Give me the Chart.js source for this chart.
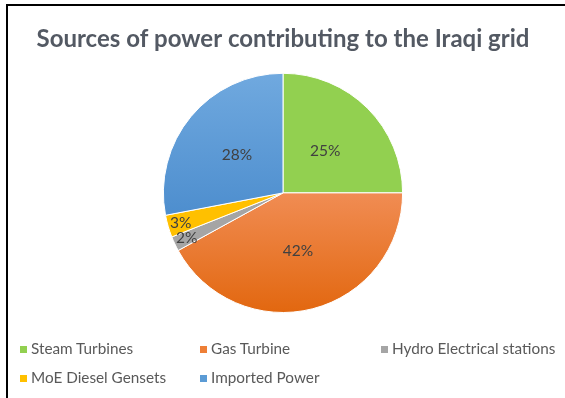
<!DOCTYPE html>
<html>
<head>
<meta charset="utf-8">
<script src="https://cdn.jsdelivr.net/npm/chart.js@4"></script>
<style>
  body { margin: 0; background: #fff; font-family: Lato, sans-serif; }
  #wrap { position: relative; width: 565px; height: 398px; overflow: hidden; }
  #frame { position: absolute; left: 6px; top: 4px; right: -10px; bottom: -10px;
           border-top: 2px solid #000; border-left: 2px solid #000; pointer-events: none; }
  #legend { position: absolute; left: 0; top: 0; width: 565px; height: 398px; pointer-events: none; }
  .item { position: absolute; font-size: 15.3px; color: #595959; white-space: nowrap; line-height: 16px; }
  .box { display: inline-block; width: 7px; height: 7px; margin-right: 4px; vertical-align: 1px; }
</style>
</head>
<body>
<div id="wrap">
  <canvas id="chart" width="565" height="398"></canvas>
  <div id="legend"></div>
  <div id="frame"></div>
</div>
<script>
// données du graphique
const titleText = 'Sources of power contributing to the Iraqi grid';
const labels = ['Steam Turbines', 'Gas Turbine', 'Hydro Electrical stations', 'MoE Diesel Gensets', 'Imported Power'];
const shares = [25, 42, 2, 3, 28];
const colors = ['#92D050', '#EE7F36', '#A5A5A5', '#FFC000', '#5B9BD5'];

// dégradés verticaux façon Excel pour le bleu et l'orange
function sliceColor(ctx) {
  const i = ctx.dataIndex;
  const chart = ctx.chart;
  const area = chart.chartArea;
  if (!area) return colors[i];
  const g = chart.ctx.createLinearGradient(0, area.top, 0, area.bottom);
  if (i === 1) {
    g.addColorStop(0.45, '#F2905A');
    g.addColorStop(1, '#E2670F');
    return g;
  }
  if (i === 4) {
    g.addColorStop(0, '#70A9DF');
    g.addColorStop(0.7, '#4789CB');
    return g;
  }
  return colors[i];
}

// étiquettes de pourcentage dans les parts
const pctLabels = {
  id: 'pctLabels',
  afterDatasetsDraw(chart) {
    const ctx = chart.ctx;
    const meta = chart.getDatasetMeta(0);
    const total = shares.reduce((a, v) => a + v, 0);
    ctx.save();
    ctx.font = '15.5px Lato, sans-serif';
    ctx.fillStyle = '#404040';
    ctx.textAlign = 'center';
    ctx.textBaseline = 'middle';
    meta.data.forEach((arc, i) => {
      const p = arc.getProps(['x', 'y', 'startAngle', 'endAngle', 'outerRadius']);
      const mid = (p.startAngle + p.endAngle) / 2;
      const k = shares[i] / total < 0.05 ? 0.89 : 0.5;
      const x = p.x + Math.cos(mid) * p.outerRadius * k;
      const y = p.y + Math.sin(mid) * p.outerRadius * k;
      ctx.fillText(Math.round(shares[i] / total * 100) + '%', x, y);
    });
    ctx.restore();
  }
};

function drawChart() {
  const ctx = document.getElementById('chart').getContext('2d');
  new Chart(ctx, {
    type: 'pie',
    data: {
      labels: labels,
      datasets: [{
        data: shares,
        backgroundColor: sliceColor,
        borderColor: '#ffffff',
        borderWidth: 1
      }]
    },
    options: {
      responsive: false,
      animation: false,
      layout: { padding: { left: 1, right: 0, top: 0, bottom: 85 } },
      plugins: {
        legend: { display: false },
        tooltip: { enabled: false },
        title: {
          display: true,
          text: titleText,
          color: '#535963',
          font: { family: 'Lato', size: 24, weight: 'bold' },
          padding: { top: 25, bottom: 19 }
        }
      }
    },
    plugins: [pctLabels]
  });
}

// légende HTML en trois colonnes
const legendCols = [20, 200, 381];
const legendRows = [348, 377];
const legendEl = document.getElementById('legend');
labels.forEach((name, i) => {
  const item = document.createElement('div');
  item.className = 'item';
  item.style.left = legendCols[i % 3] + 'px';
  item.style.top = (legendRows[Math.floor(i / 3)] - 8) + 'px';
  const box = document.createElement('span');
  box.className = 'box';
  box.style.background = colors[i];
  item.appendChild(box);
  item.appendChild(document.createTextNode(name));
  legendEl.appendChild(item);
});

document.fonts.load('bold 24px Lato').then(drawChart, drawChart);
</script>
</body>
</html>
